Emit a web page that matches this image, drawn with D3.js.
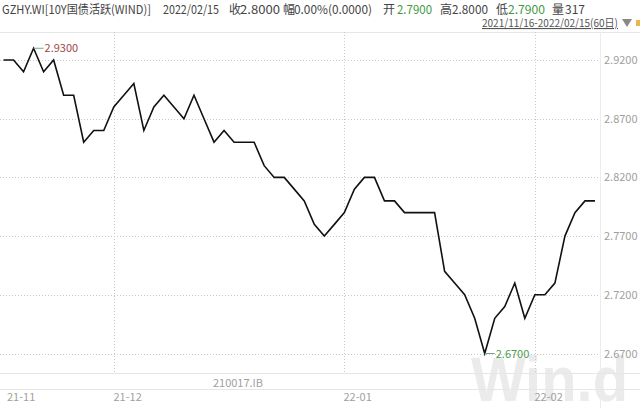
<!DOCTYPE html>
<html><head><meta charset="utf-8">
<script src="https://cdn.jsdelivr.net/npm/d3@7"></script>
<style>body{margin:0;background:#fff}svg{display:block}</style>
</head><body><svg id="c" width="640" height="408"></svg>
<script>
const dates = ["2021-11-16","2021-11-17","2021-11-18","2021-11-19","2021-11-22","2021-11-23","2021-11-24","2021-11-25","2021-11-26","2021-11-29","2021-11-30",
"2021-12-01","2021-12-02","2021-12-03","2021-12-06","2021-12-07","2021-12-08","2021-12-09","2021-12-10","2021-12-13","2021-12-14","2021-12-15","2021-12-16","2021-12-17","2021-12-20","2021-12-21","2021-12-22","2021-12-23","2021-12-24","2021-12-27","2021-12-28","2021-12-29","2021-12-30","2021-12-31",
"2022-01-04","2022-01-05","2022-01-06","2022-01-07","2022-01-10","2022-01-11","2022-01-12","2022-01-13","2022-01-14","2022-01-17","2022-01-18","2022-01-19","2022-01-20","2022-01-21","2022-01-24","2022-01-25","2022-01-26","2022-01-27","2022-01-28",
"2022-02-07","2022-02-08","2022-02-09","2022-02-10","2022-02-11","2022-02-14","2022-02-15"];
const values = [2.92,2.92,2.91,2.93,2.91,2.92,2.89,2.89,2.85,2.86,
2.86,2.88,2.89,2.90,2.86,2.88,2.89,2.88,2.87,2.89,
2.87,2.85,2.86,2.85,2.85,2.85,2.83,2.82,2.82,2.81,
2.80,2.78,2.77,2.78,2.79,2.81,2.82,2.82,2.80,2.80,
2.79,2.79,2.79,2.79,2.74,2.73,2.72,2.70,2.67,2.70,
2.71,2.73,2.70,2.72,2.72,2.73,2.77,2.79,2.80,2.80];
const yTicks = [2.92,2.87,2.82,2.77,2.72,2.67];
const monthLabels = ["21-11","21-12","22-01","22-02"];
const title = "GZHY.WI[10Y国债活跃(WIND)]";
const headerTexts = [title,"2022/02/15","收","2.8000","幅","0.00%(0.0000)","开","2.7900","高","2.8000","低","2.7900","量","317"];
const rangeLabel = "2021/11/16-2022/02/15(60日)";
const code = "210017.IB";

// header layout (positions/styles only)
const headerLayout = [[2,149,"#444"],[163,56,"#444"],[229,0,"#444"],[240,40,"#444"],[283,0,"#444"],[294,78,"#444"],
  [383,0,"#444"],[397,35,"#3f9a3f"],[440,0,"#444"],[452,36,"#444"],[496,0,"#444"],[508,37,"#3f9a3f"],[552,0,"#444"],[565,20,"#444"]];

const svg = d3.select("#c");
const font = "'Noto Sans CJK SC','Noto Sans',sans-serif";
const x = d3.scalePoint().domain(dates).range([3.5, 595]);
const y = d3.scaleLinear().domain([2.67, 2.92]).range([353.5, 60]);
const plotTop = 32, plotBottom = 373, plotRight = 600;

// watermark
svg.append("text").attr("x",471).attr("y",401).attr("font-family","'Liberation Sans',Arial,sans-serif")
  .attr("font-weight","bold").attr("font-size",63).attr("fill","#ebebeb")
  .attr("textLength",157).attr("lengthAdjust","spacingAndGlyphs").text("Win.d");

// frame lines
svg.append("line").attr("x1",0).attr("x2",640).attr("y1",plotTop+0.5).attr("y2",plotTop+0.5).attr("stroke","#e6e6e6");
svg.append("line").attr("x1",plotRight+0.5).attr("x2",plotRight+0.5).attr("y1",plotTop).attr("y2",408).attr("stroke","#ececec");
svg.append("line").attr("x1",0).attr("x2",640).attr("y1",plotBottom+0.5).attr("y2",plotBottom+0.5).attr("stroke","#e6e6e6");
svg.append("line").attr("x1",0).attr("x2",640).attr("y1",389.5).attr("y2",389.5).attr("stroke","#e6e6e6");

// horizontal grid + labels
const gy = svg.append("g");
yTicks.forEach(v=>{
  gy.append("line").attr("x1",0).attr("x2",plotRight).attr("y1",Math.round(y(v))+0.5).attr("y2",Math.round(y(v))+0.5)
    .attr("stroke","#c8c8c8").attr("stroke-dasharray","1,2");
  gy.append("text").attr("x",604).attr("y",y(v)+4).attr("font-family",font).attr("font-size",11)
    .attr("fill","#a0a0a0").text(d3.format(".4f")(v));
});

// month gridlines + labels
const firstIdx = [];
dates.forEach((d,i)=>{ if(i===0 || d.slice(0,7)!==dates[i-1].slice(0,7)) firstIdx.push(i); });
firstIdx.forEach((i,k)=>{
  const xp = Math.round(x(dates[i]))+0.5;
  if(i>0) svg.append("line").attr("x1",xp).attr("x2",xp).attr("y1",plotTop).attr("y2",plotBottom)
    .attr("stroke","#c8c8c8").attr("stroke-dasharray","1,2");
  svg.append("text").attr("x",Math.max(xp-1,7)).attr("y",401).attr("font-family",font).attr("font-size",11)
    .attr("fill","#a0a0a0").text(monthLabels[k]);
});
svg.append("text").attr("x",238).attr("y",387).attr("text-anchor","middle").attr("font-family",font).attr("font-size",11)
  .attr("fill","#a0a0a0").text(code);

// line
svg.append("path").datum(values).attr("fill","none").attr("stroke","#111").attr("stroke-width",1.6)
  .attr("stroke-linejoin","miter")
  .attr("d", d3.line().x((d,i)=>x(dates[i])).y(d=>y(d)));

// max/min annotations
const maxI = values.indexOf(d3.max(values)), minI = values.indexOf(d3.min(values));
[[maxI,"#a04848"],[minI,"#4f9a4f"]].forEach(([i,c])=>{
  const px = x(dates[i]), py = y(values[i]);
  svg.append("line").attr("x1",px).attr("x2",px+10).attr("y1",py).attr("y2",py).attr("stroke","#7aa08a").attr("stroke-width",1);
  svg.append("text").attr("x",px+11).attr("y",py+4).attr("font-family",font).attr("font-size",11)
    .attr("fill",c).text(d3.format(".4f")(values[i]));
});

// header
headerTexts.forEach((t,k)=>{
  const [hx,len,c] = headerLayout[k];
  const el = svg.append("text").attr("x",hx).attr("y",14).attr("font-family",font).attr("font-size",12).attr("fill",c).text(t);
  if(len) el.attr("textLength",len).attr("lengthAdjust","spacingAndGlyphs");
});
svg.append("text").attr("x",482).attr("y",27).attr("font-family",font).attr("font-size",11)
  .attr("fill","#555").attr("text-decoration","underline").attr("textLength",136).attr("lengthAdjust","spacingAndGlyphs").text(rangeLabel);
svg.append("path").attr("d","M622,19 L632,19 L627,27 Z").attr("fill","#888");
svg.append("rect").attr("x",636).attr("y",20).attr("width",4).attr("height",6).attr("fill","#e8b84a");
</script></body></html>
